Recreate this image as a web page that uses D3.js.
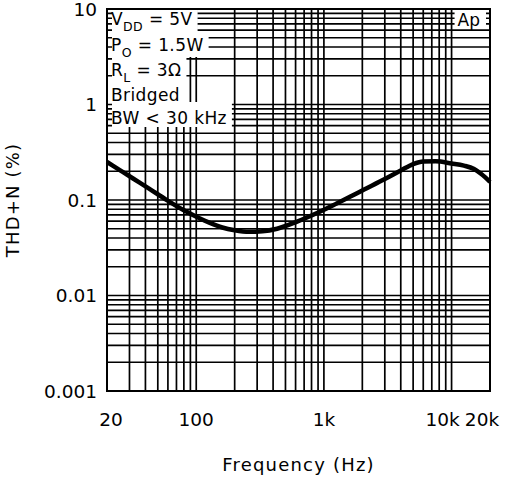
<!DOCTYPE html>
<html>
<head>
<meta charset="utf-8">
<script src="https://cdn.jsdelivr.net/npm/d3@7"></script>
<style>
  body { margin: 0; background: #fff; }
  text { font-family: "DejaVu Sans", "Liberation Sans", sans-serif; fill: #000; }
</style>
</head>
<body>
<div id="chart"></div>
<script>
"use strict";

/* THD+N vs frequency */
const freqHz = [20, 25, 32, 43, 58, 80, 107, 128, 160, 200, 260, 330, 430, 610, 875, 1260, 1600,
                2000, 3000, 4000, 5000, 6000, 7500, 10000, 12500, 15000, 17000, 20000];
const thdPct = [0.25, 0.207, 0.168, 0.131, 0.101, 0.078, 0.064, 0.0575, 0.0515, 0.0482, 0.0464, 0.047, 0.050, 0.059, 0.0726, 0.092, 0.108,
                0.126, 0.166, 0.204, 0.238, 0.253, 0.254, 0.241, 0.229, 0.211, 0.188, 0.155];

const xTickValues = [20, 100, 1000, 10000, 20000];
const xTickLabels = ["20", "100", "1k", "10k", "20k"];
const yTickValues = [0.001, 0.01, 0.1, 1, 10];
const yTickLabels = ["0.001", "0.01", "0.1", "1", "10"];

/* condition notes: [main, subscript, rest] */
const noteLines = [
  ["V", "DD", " = 5V"],
  ["P", "O", " = 1.5W"],
  ["R", "L", " = 3\u03A9"],
  ["Bridged", "", ""],
  ["BW < 30 kHz", "", ""]
];

const width = 507, height = 480;
const plot = { left: 107, top: 9, right: 490, bottom: 391 };

const svg = d3.select("#chart")
  .append("svg")
  .attr("width", width)
  .attr("height", height);

/* log scales on both axes */
const xScale = d3.scaleLog()
  .domain([20, 20000])
  .range([plot.left, plot.right]);

const yScale = d3.scaleLog()
  .domain([0.001, 10])
  .range([plot.bottom, plot.top]);

/* grid lines */
const grid = svg.append("g").attr("stroke", "#000").attr("stroke-width", 1.7);

grid.selectAll(".vgrid")
  .data(xScale.ticks())
  .enter().append("line")
  .attr("class", "vgrid")
  .attr("x1", d => xScale(d)).attr("x2", d => xScale(d))
  .attr("y1", plot.top).attr("y2", plot.bottom);

grid.selectAll(".hgrid")
  .data(yScale.ticks())
  .enter().append("line")
  .attr("class", "hgrid")
  .attr("x1", plot.left).attr("x2", plot.right)
  .attr("y1", d => yScale(d)).attr("y2", d => yScale(d));

/* the curve */
const line = d3.line()
  .x((d, i) => xScale(freqHz[i]))
  .y(d => yScale(d))
  .curve(d3.curveMonotoneX);

svg.append("path")
  .datum(thdPct)
  .attr("d", line)
  .attr("fill", "none")
  .attr("stroke", "#000")
  .attr("stroke-width", 4.5);

/* notes box, top left: white behind each line so grid is hidden */
const notes = svg.append("g");
const baselines = [25, 51, 76, 101, 124];
const bandTops = [plot.top + 1, 31, 57, 80, 102, 127];

noteLines.forEach(function(l, i) {
  const t = notes.append("text")
    .attr("x", plot.left + 4)
    .attr("y", baselines[i])
    .style("font-size", "17px")
    .style("letter-spacing", "0.4px");
  t.append("tspan").text(l[0]);
  if (l[1]) {
    t.append("tspan").attr("dy", 6).style("font-size", "12.5px").text(l[1]);
    t.append("tspan").attr("dy", -6).text(l[2]);
  }
  const bb = t.node().getBBox();
  notes.insert("rect", "text")
    .attr("x", plot.left + 5)
    .attr("y", bandTops[i])
    .attr("width", bb.x + bb.width + 5 - (plot.left + 5))
    .attr("height", bandTops[i + 1] - bandTops[i])
    .attr("fill", "#fff");
});

/* Ap tag, top right */
const apBox = svg.append("g");
apBox.append("rect")
  .attr("x", xScale(10000) + 3)
  .attr("y", plot.top + 1)
  .attr("width", plot.right - 4 - (xScale(10000) + 3))
  .attr("height", 19)
  .attr("fill", "#fff");
apBox.append("text")
  .attr("x", xScale(10000) + 6)
  .attr("y", 26)
  .style("font-size", "17px")
  .text("Ap");

/* frame */
svg.append("rect")
  .attr("x", plot.left).attr("y", plot.top)
  .attr("width", plot.right - plot.left)
  .attr("height", plot.bottom - plot.top)
  .attr("fill", "none")
  .attr("stroke", "#000")
  .attr("stroke-width", 2);

/* y tick labels */
svg.selectAll(".ylab")
  .data(yTickValues)
  .enter().append("text")
  .attr("class", "ylab")
  .attr("x", plot.left - 10)
  .attr("y", d => yScale(d))
  .attr("dy", "0.36em")
  .attr("text-anchor", "end")
  .style("font-size", "18.5px")
  .text((d, i) => yTickLabels[i]);

/* x tick labels, the end ones nudged so they fit */
const xNudge = [4, 0, 0, -9, -8];
svg.selectAll(".xlab")
  .data(xTickValues)
  .enter().append("text")
  .attr("class", "xlab")
  .attr("x", (d, i) => xScale(d) + xNudge[i])
  .attr("y", 426)
  .attr("text-anchor", "middle")
  .style("font-size", "18.5px")
  .text((d, i) => xTickLabels[i]);

/* axis titles */
svg.append("text")
  .attr("x", (plot.left + plot.right) / 2)
  .attr("y", 471)
  .attr("text-anchor", "middle")
  .style("font-size", "18px")
  .style("letter-spacing", "1.2px")
  .text("Frequency (Hz)");

svg.append("text")
  .attr("transform", "translate(19," + ((plot.top + plot.bottom) / 2) + ") rotate(-90)")
  .attr("text-anchor", "middle")
  .style("font-size", "18px")
  .style("letter-spacing", "1.2px")
  .text("THD+N (%)");
</script>
</body>
</html>
